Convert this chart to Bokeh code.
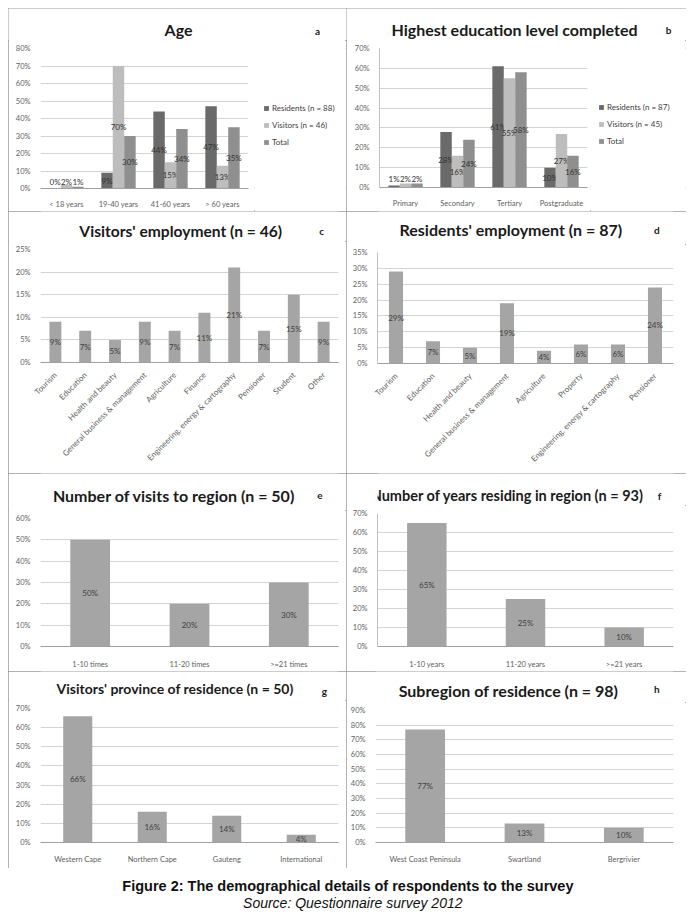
import math
from bokeh.plotting import figure
from bokeh.layouts import column, row
from bokeh.models import (FactorRange, Range1d, FixedTicker, PrintfTickFormatter,
                          Label, Legend, LegendItem, ColumnDataSource)
from bokeh.transform import dodge
from bokeh.embed import file_html
from bokeh.resources import INLINE
from bokeh.core.properties import value

# ---------------- data ----------------
age_cats = ["< 18 years", "19-40 years", "41-60 years", "> 60 years"]
age_residents = [0, 9, 44, 47]
age_visitors = [2, 70, 15, 13]
age_total = [1, 30, 34, 35]

edu_cats = ["Primary", "Secondary", "Tertiary", "Postgraduate"]
edu_residents = [1, 28, 61, 10]
edu_visitors = [2, 16, 55, 27]
edu_total = [2, 24, 58, 16]

vis_emp_cats = ["Tourism", "Education", "Health and beauty", "General business & management",
                "Agriculture", "Finance", "Engineering, energy & cartography", "Pensioner",
                "Student", "Other"]
vis_emp_vals = [9, 7, 5, 9, 7, 11, 21, 7, 15, 9]

res_emp_cats = ["Tourism", "Education", "Health and beauty", "General business & management",
                "Agriculture", "Property", "Engineering, energy & cartography", "Pensioner"]
res_emp_vals = [29, 7, 5, 19, 4, 6, 6, 24]

visits_cats = ["1-10 times", "11-20 times", ">=21 times"]
visits_vals = [50, 20, 30]

years_cats = ["1-10 years", "11-20 years", ">=21 years"]
years_vals = [65, 25, 10]

prov_cats = ["Western Cape", "Northern Cape", "Gauteng", "International"]
prov_vals = [66, 16, 14, 4]

sub_cats = ["West Coast Peninsula", "Swartland", "Bergrivier"]
sub_vals = [77, 13, 10]

# ---------------- style ----------------
FONT = "Lato"
C_RES = "#6a6a6a"
C_VIS = "#bdbdbd"
C_TOT = "#8f8f8f"
C_BAR = "#a5a5a5"
BORDER_CSS = {"outline": "1px solid #9a9a9a", "outline-offset": "-1px"}


def blank_fig(w, h):
    f = figure(width=w, height=h, x_range=Range1d(0, w), y_range=Range1d(0, h),
               output_backend="svg", toolbar_location=None, title=None,
               x_axis_type=None, y_axis_type=None, min_border=0)
    f.outline_line_color = None
    f.xgrid.grid_line_color = None
    f.ygrid.grid_line_color = None
    f.border_fill_color = "white"
    f.background_fill_color = "white"
    return f


def make_plot(cats, w, h, L, R, T, B, yend, ystep, yline, rot, xstand):
    p = figure(x_range=FactorRange(*cats), y_range=Range1d(0, yend), width=w, height=h,
               output_backend="svg", toolbar_location=None, title=None,
               min_border_left=L, min_border_right=R, min_border_top=T, min_border_bottom=B)
    p.outline_line_color = None
    p.background_fill_color = "white"
    p.border_fill_color = "white"
    p.xgrid.grid_line_color = None
    p.ygrid.grid_line_color = "#d4d4d4"
    p.yaxis.ticker = FixedTicker(ticks=list(range(0, yend + 1, ystep)))
    p.yaxis.formatter = PrintfTickFormatter(format="%d%%")
    for ax in (p.xaxis, p.yaxis):
        ax.major_tick_line_color = None
        ax.minor_tick_line_color = None
        ax.major_label_text_font = FONT
        ax.major_label_text_color = "#606060"
    p.yaxis.major_label_text_font_size = "7.5px"
    p.yaxis.major_label_standoff = 4
    p.yaxis.axis_line_color = "#c0c0c0" if yline else None
    p.xaxis.axis_line_color = "#a0a0a0"
    p.xaxis.major_label_text_font_size = "8px" if rot else "7.5px"
    p.xaxis.major_label_standoff = xstand
    if rot:
        p.xaxis.major_label_orientation = math.pi / 4
    return p


def single_bars(p, cats, vals, width):
    src = ColumnDataSource(dict(cat=cats, v=vals, half=[v / 2 for v in vals],
                                lab=[f"{v}%" for v in vals]))
    p.vbar(x="cat", top="v", width=width, source=src, fill_color=C_BAR, line_color=None)
    p.text(x="cat", y="half", text="lab", source=src, text_align="center",
           text_baseline="middle", text_font_size="8px", text_color="#404040",
           text_font=value(FONT))


def grouped_bars(p, cats, series, minpos):
    offsets = [-0.22, 0.0, 0.22]
    colors = [C_RES, C_VIS, C_TOT]
    for vals, off, col in zip(series, offsets, colors):
        src = ColumnDataSource(dict(cat=cats, v=vals,
                                    pos=[max(v / 2, minpos) for v in vals],
                                    lab=[f"{v}%" for v in vals]))
        p.vbar(x=dodge("cat", off, range=p.x_range), top="v", width=0.22, source=src,
               fill_color=col, line_color=None)
        p.text(x=dodge("cat", off, range=p.x_range), y="pos", text="lab", source=src,
               text_align="center", text_baseline="middle", text_font_size="8px",
               text_color="#333333", text_font=value(FONT))


def legend_fig(w, h, labels, lx, ly):
    f = blank_fig(w, h)
    items = []
    for lab, col in zip(labels, [C_RES, C_VIS, C_TOT]):
        # off-canvas swatch renderer, only used for the legend key
        r = f.vbar(x=[-1000], top=[1], width=1, fill_color=col, line_color=None)
        items.append(LegendItem(label=lab, renderers=[r]))
    leg = Legend(items=items, location=(lx, ly), border_line_color=None,
                 background_fill_alpha=0, glyph_width=6, glyph_height=6,
                 label_text_font_size="8px", label_text_font=FONT, label_text_color="#404040",
                 label_standoff=3, label_height=11, spacing=6, padding=0, margin=0)
    f.add_layout(leg, "center")
    return f


def panel(x0, y0, w, h, fl, fr, ft, fb, cats, yend, ystep, title, tx, ty, tsize,
          letter, lx, ly, yline=False, rot=False, xstand=6, legend=None):
    top_h = ft - 8 - y0
    tf = blank_fig(w, top_h)
    # tx = right edge of the title text
    tf.add_layout(Label(x=tx - x0, y=top_h - (ty - y0), text=title, text_align="right",
                        text_baseline="middle", text_font=FONT, text_font_size=tsize,
                        text_font_style="bold", text_color="#1a1a1a"))
    tf.add_layout(Label(x=lx - x0, y=top_h - (ly - y0), text=letter, text_align="center",
                        text_baseline="middle", text_font=FONT, text_font_size="10px",
                        text_font_style="bold", text_color="#1a1a1a"))
    ph = h - top_h
    if legend is None:
        p = make_plot(cats, w, ph, fl - x0, x0 + w - fr, 8, y0 + h - fb,
                      yend, ystep, yline, rot, xstand)
        body = p
    else:
        labels, lw, leg_x, leg_y = legend
        pw = w - lw
        p = make_plot(cats, pw, ph, fl - x0, x0 + pw - fr, 8, y0 + h - fb,
                      yend, ystep, yline, rot, xstand)
        lf = legend_fig(lw, ph, labels, leg_x - (x0 + pw), (y0 + h) - leg_y)
        body = row(p, lf)
    col = column(tf, body, styles=BORDER_CSS)
    return col, p


# ---------------- panels ----------------
ca, pa = panel(8, 8, 338, 203, 40, 248, 48, 188, age_cats, 80, 10,
               "Age", 192, 29, "16px", "a", 317, 30, xstand=5,
               legend=(["Residents (n = 88)", "Visitors (n = 46)", "Total"], 92, 263, 170))
grouped_bars(pa, age_cats, [age_residents, age_visitors, age_total], 4)

cb, pb = panel(346, 8, 340, 203, 379, 587, 48, 187, edu_cats, 70, 10,
               "Highest education level completed", 637, 29, "16px", "b", 668, 29,
               yline=True, xstand=5,
               legend=(["Residents (n = 87)", "Visitors (n = 45)", "Total"], 96, 598, 170))
grouped_bars(pb, edu_cats, [edu_residents, edu_visitors, edu_total], 4.5)

cc, pc = panel(8, 211, 338, 262, 40, 338, 249, 362, vis_emp_cats, 25, 5,
               "Visitors' employment (n = 46)", 282, 230, "15.6px", "c", 327, 230,
               rot=True, xstand=5)
single_bars(pc, vis_emp_cats, vis_emp_vals, 0.4)

cd, pd_ = panel(346, 211, 340, 262, 377, 673, 252, 363, res_emp_cats, 35, 5,
                "Residents' employment (n = 87)", 627, 229, "16px", "d", 667, 229,
                yline=True, rot=True, xstand=5)
single_bars(pd_, res_emp_cats, res_emp_vals, 0.38)

ce, pe = panel(8, 473, 338, 198, 40, 338, 518, 648, visits_cats, 60, 10,
               "Number of visits to region (n = 50)", 297, 495, "16px", "e", 325, 495,
               xstand=7)
single_bars(pe, visits_cats, visits_vals, 0.4)

cf, pf = panel(346, 473, 340, 198, 377, 673, 513, 647, years_cats, 70, 10,
               "Number of years residing in region (n = 93)", 652, 495, "14.5px", "f", 670, 495,
               yline=True, xstand=7)
single_bars(pf, years_cats, years_vals, 0.4)

cg, pg = panel(8, 671, 338, 197, 40, 338, 708, 842, prov_cats, 70, 10,
               "Visitors' province of residence (n = 50)", 295, 688, "14px", "g", 330, 690,
               xstand=6)
single_bars(pg, prov_cats, prov_vals, 0.39)

ch, ph_ = panel(346, 671, 340, 197, 375, 673, 710, 842, sub_cats, 90, 10,
                "Subregion of residence (n = 98)", 623, 690, "16px", "h", 667, 688,
                xstand=6)
single_bars(ph_, sub_cats, sub_vals, 0.4)

# ---------------- caption ----------------
cap = blank_fig(678, 44)
cap.add_layout(Label(x=565, y=27, text="Figure 2: The demographical details of respondents to the survey",
                     text_align="right", text_baseline="middle", text_font="Liberation Sans",
                     text_font_size="14.5px", text_font_style="bold", text_color="#111111"))
cap.add_layout(Label(x=454, y=10, text="Source: Questionnaire survey 2012",
                     text_align="right", text_baseline="middle", text_font="Liberation Sans",
                     text_font_size="14px", text_font_style="italic", text_color="#111111"))

layout = column(row(ca, cb), row(cc, cd), row(ce, cf), row(cg, ch), cap,
                margin=(8, 0, 0, 8))

open("out.html", "w").write(file_html(layout, INLINE))
